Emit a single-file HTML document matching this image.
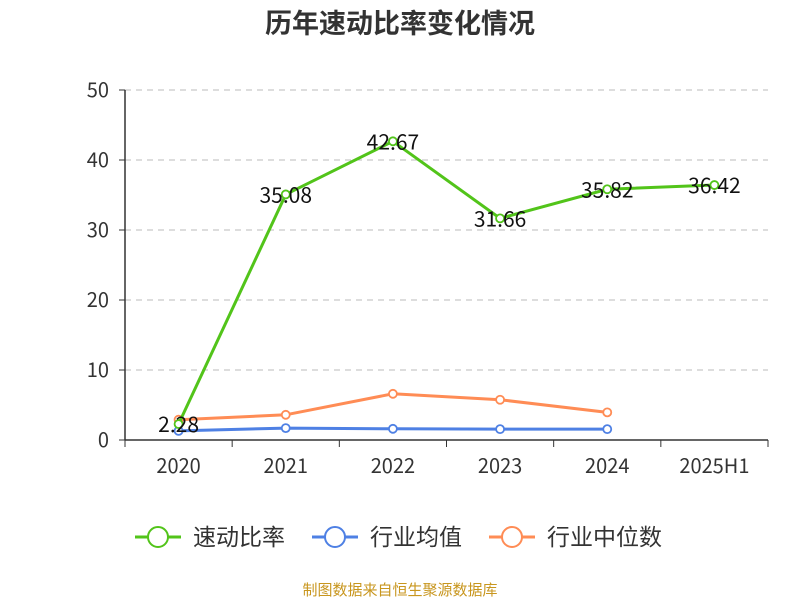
<!DOCTYPE html>
<html><head><meta charset="utf-8"><style>
body{margin:0;background:#fff;}
svg{display:block;font-family:"Noto Sans CJK SC","Liberation Sans",sans-serif;}
</style></head><body>
<svg id="c" width="800" height="600">
<text x="400" y="33" text-anchor="middle" font-size="27" font-weight="bold" fill="#333">历年速动比率变化情况</text>
<g id="grid"></g><g id="axes"></g><g id="series"></g><g id="legend"></g>
<text x="400" y="595" text-anchor="middle" font-size="15" fill="#c8961e">制图数据来自恒生聚源数据库</text>
</svg>
<script>
const categories=["2020","2021","2022","2023","2024","2025H1"];
const quickRatio=[2.28,35.08,42.67,31.66,35.82,36.42];
const industryAvg=[1.3,1.7,1.6,1.55,1.55];
const industryMedian=[2.9,3.6,6.6,5.75,3.95];
const yTicks=[0,10,20,30,40,50];
const NS="http://www.w3.org/2000/svg";
const L=125,R=768,T=90,B=440,yMax=50;
const bw=(R-L)/categories.length;
const x=i=>L+bw*(i+0.5);
const y=v=>B-(v/yMax)*(B-T);
function mk(tag,attrs,parent,text){const e=document.createElementNS(NS,tag);for(const k in attrs)e.setAttribute(k,attrs[k]);if(text!=null)e.textContent=text;parent.appendChild(e);return e;}
const grid=document.getElementById('grid'),axes=document.getElementById('axes'),series=document.getElementById('series'),legend=document.getElementById('legend');
yTicks.forEach(t=>{
 if(t>0){const g=mk('line',{x1:L,x2:R,y1:y(t),y2:y(t),stroke:'#bbb','stroke-dasharray':'6,5'},grid);
 
 }
 const tk=mk('line',{x1:L-6,x2:L,y1:y(t),y2:y(t),stroke:'#333'},axes);
 
 
 const lb=mk('text',{x:L-16,y:y(t)+7,'text-anchor':'end','font-size':20,fill:'#333'},axes,t);
 
 
});
const ya=mk('line',{x1:L,x2:L,y1:T,y2:B,stroke:'#333','stroke-width':1.5},axes);


const xa=mk('line',{x1:L,x2:R,y1:B,y2:B,stroke:'#333','stroke-width':1.5},axes);


for(let i=0;i<=categories.length;i++){const tk=mk('line',{x1:L+bw*i,x2:L+bw*i,y1:B,y2:B+7,stroke:'#333'},axes);
 
 }
categories.forEach((c,i)=>{const t=mk('text',{x:x(i),y:B+33,'text-anchor':'middle','font-size':20,fill:'#333'},axes,c);
 
 });
function draw(vals,color,name,labels){
 const g=mk('g',{},series);
 
 
 const p=mk('polyline',{points:vals.map((v,i)=>x(i)+','+y(v)).join(' '),fill:'none',stroke:color,'stroke-width':3},g);
 
 
 vals.forEach((v,i)=>{const c=mk('circle',{cx:x(i),cy:y(v),r:4,fill:'#fff',stroke:color,'stroke-width':1.8},g);
  
  
  if(labels){const t=mk('text',{x:x(i),y:y(v)+8,'text-anchor':'middle','font-size':21,fill:'#111'},g,v.toFixed(2));
  
  }
 });
}
draw(industryMedian,'#ff8c55','industry-median',false);
draw(industryAvg,'#4e80e4','industry-average',false);
draw(quickRatio,'#52c41a','quick-ratio',true);
const items=[['速动比率','#52c41a',135],['行业均值','#4e80e4',312],['行业中位数','#ff8c55',489]];
items.forEach(([n,c,lx])=>{
 const g=mk('g',{},legend);
 
 
 mk('line',{x1:lx,x2:lx+46,y1:537,y2:537,stroke:c,'stroke-width':3},g);
 mk('circle',{cx:lx+23,cy:537,r:10,fill:'#fff',stroke:c,'stroke-width':2},g);
 mk('text',{x:lx+58,y:545,'font-size':23,fill:'#333'},g,n);
});
</script>
</body></html>
